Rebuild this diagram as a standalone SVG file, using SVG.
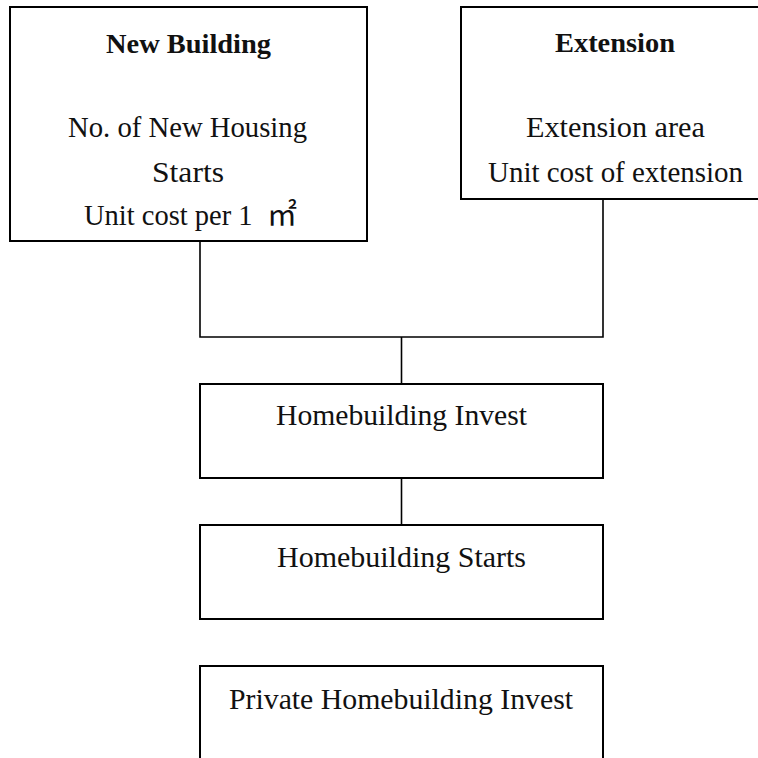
<svg xmlns="http://www.w3.org/2000/svg" width="758" height="758" viewBox="0 0 758 758">
<style>
.box{fill:#fff;stroke:#000;stroke-width:2}
.ln{fill:none;stroke:#000;stroke-width:1.6}
text{font-family:"Liberation Serif","Noto Sans CJK JP",serif;font-size:28.5px;fill:#111}
.b{font-weight:bold;font-size:27px}
</style>
<rect width="758" height="758" fill="#fff"/>
<g id="connectors">
<polyline class="ln" points="200,241 200,337 603,337 603,199"/>
<line class="ln" x1="401.5" y1="337" x2="401.5" y2="384"/>
<line class="ln" x1="401.5" y1="478" x2="401.5" y2="525"/>
</g>
<g id="new-building">
<rect class="box" x="10" y="7" width="357" height="234"/>
<text class="b" x="106" y="53" textLength="165" lengthAdjust="spacingAndGlyphs">New Building</text>
<text x="68" y="137" textLength="239" lengthAdjust="spacingAndGlyphs">No. of New Housing</text>
<text x="152" y="182" textLength="72" lengthAdjust="spacingAndGlyphs">Starts</text>
<text x="84" y="225" font-size="27">Unit cost per 1<tspan x="267" font-family="'Noto Sans CJK JP',sans-serif" font-size="30">㎡</tspan></text>
</g>
<g id="extension">
<rect class="box" x="461" y="7" width="308" height="192"/>
<text class="b" x="555" y="52" textLength="120" lengthAdjust="spacingAndGlyphs">Extension</text>
<text x="526" y="137" textLength="179" lengthAdjust="spacingAndGlyphs">Extension area</text>
<text x="488" y="182" textLength="255" lengthAdjust="spacingAndGlyphs">Unit cost of extension</text>
</g>
<g id="homebuilding-invest">
<rect class="box" x="200" y="384" width="403" height="94"/>
<text x="276" y="425" textLength="251" lengthAdjust="spacingAndGlyphs">Homebuilding Invest</text>
</g>
<g id="homebuilding-starts">
<rect class="box" x="200" y="525" width="403" height="94"/>
<text x="277" y="567" textLength="249" lengthAdjust="spacingAndGlyphs">Homebuilding Starts</text>
</g>
<g id="private-homebuilding-invest">
<rect class="box" x="200" y="666" width="403" height="110"/>
<text x="229" y="709" textLength="344" lengthAdjust="spacingAndGlyphs">Private Homebuilding Invest</text>
</g>
</svg>
